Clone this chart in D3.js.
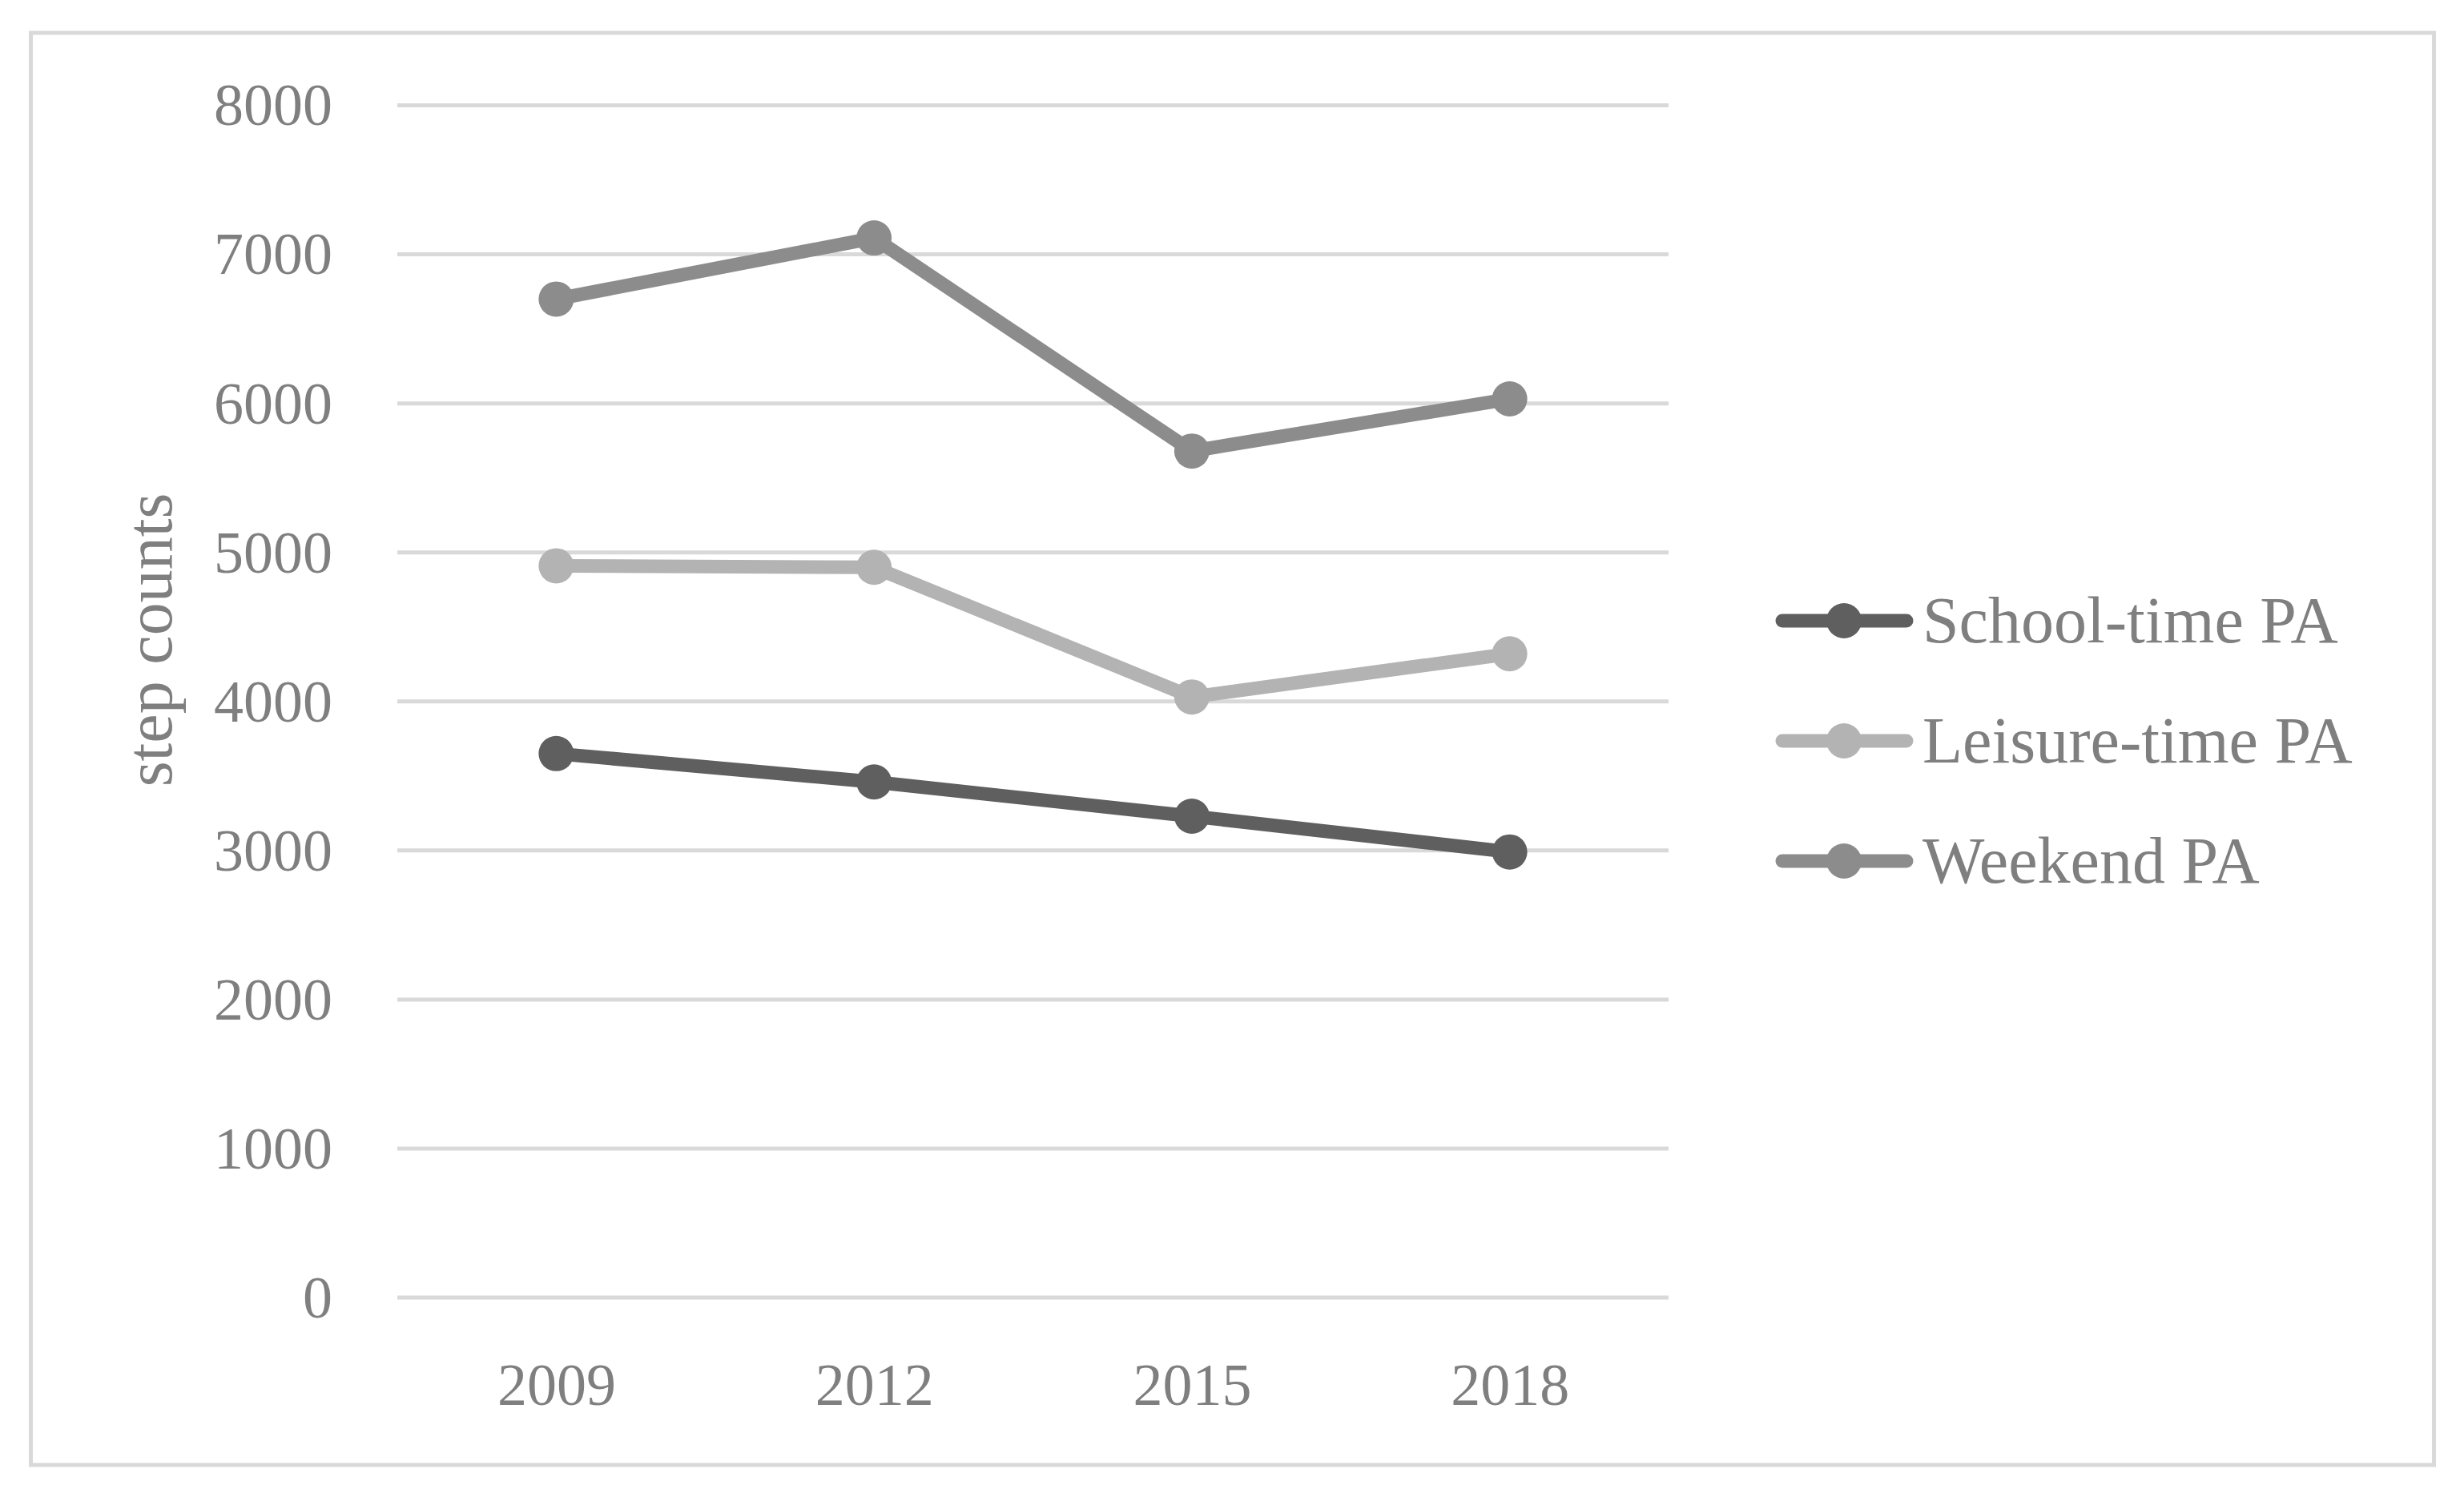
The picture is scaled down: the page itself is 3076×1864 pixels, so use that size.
<!DOCTYPE html>
<html>
<head>
<meta charset="utf-8">
<script src="https://cdn.jsdelivr.net/npm/d3@7"></script>
<style>
  html, body { margin: 0; padding: 0; background: #ffffff; }
  svg { display: block; }
  text { font-family: "Liberation Serif", "Times New Roman", serif; fill: #7f7f7f; }
</style>
</head>
<body>
<svg id="chart" width="3076" height="1864"></svg>
<script>
const years = ["2009", "2012", "2015", "2018"];
const seriesNames = ["School-time PA", "Leisure-time PA", "Weekend PA"];
const schoolTime = [3650, 3460, 3230, 2990];
const leisureTime = [4910, 4900, 4030, 4320];
const weekend = [6700, 7110, 5680, 6030];
const yTicks = [0, 1000, 2000, 3000, 4000, 5000, 6000, 7000, 8000];
const seriesColors = ["#5f5f5f", "#b3b3b3", "#8c8c8c"];
const yTitle = "step counts";

const seriesValues = [schoolTime, leisureTime, weekend];
const series = seriesNames.map((name, i) => ({ name, color: seriesColors[i], values: seriesValues[i] }));

const svg = d3.select("#chart");

// outer border
svg.append("rect")
  .attr("x", 38.5).attr("y", 41)
  .attr("width", 3000).attr("height", 1788)
  .attr("fill", "none").attr("stroke", "#d9d9d9").attr("stroke-width", 5);

const plot = { left: 496, right: 2083, top: 131.5, bottom: 1620 };

const x = d3.scalePoint().domain(years).range([plot.left, plot.right]).padding(0.5);
const y = d3.scaleLinear().domain([0, 8000]).range([plot.bottom, plot.top]);

// gridlines
svg.append("g").selectAll("line").data(yTicks).join("line")
  .attr("x1", plot.left).attr("x2", plot.right)
  .attr("y1", d => y(d)).attr("y2", d => y(d))
  .attr("stroke", "#d9d9d9").attr("stroke-width", 5);

// y axis labels
const yAxis = d3.axisLeft(y).tickValues(yTicks).tickSize(0).tickPadding(0).tickFormat(d3.format("d"));
const yg = svg.append("g").attr("transform", `translate(${plot.left - 81},0)`).call(yAxis);
yg.select(".domain").remove();
yg.selectAll("text").attr("font-size", 74).attr("fill", "#7f7f7f")
  .attr("font-family", '"Liberation Serif", serif').attr("dy", "0.33em");

// x axis labels
const xAxis = d3.axisBottom(x).tickSize(0).tickPadding(0);
const xg = svg.append("g").attr("transform", `translate(0,1754)`).call(xAxis);
xg.select(".domain").remove();
xg.selectAll("text").attr("font-size", 74).attr("fill", "#7f7f7f")
  .attr("font-family", '"Liberation Serif", serif').attr("dy", 0);

// y title
svg.append("text")
  .attr("transform", "translate(214,799) rotate(-90)")
  .attr("text-anchor", "middle")
  .attr("font-size", 82)
  .text(yTitle);

// lines
const line = d3.line().x((d, i) => x(years[i])).y(d => y(d));
const sg = svg.append("g").selectAll("g").data(series).join("g");
sg.append("path")
  .attr("d", d => line(d.values))
  .attr("fill", "none").attr("stroke", d => d.color)
  .attr("stroke-width", 17).attr("stroke-linejoin", "round");
sg.each(function(s) {
  d3.select(this).selectAll("circle").data(s.values).join("circle")
    .attr("cx", (d, i) => x(years[i])).attr("cy", d => y(d))
    .attr("r", 22).attr("fill", s.color);
});

// legend
const leg = svg.append("g").selectAll("g").data(series).join("g")
  .attr("transform", (d, i) => `translate(0,${775 + i * 150})`);
leg.append("line")
  .attr("x1", 2225).attr("x2", 2380).attr("y1", 0).attr("y2", 0)
  .attr("stroke", d => d.color).attr("stroke-width", 17).attr("stroke-linecap", "round");
leg.append("circle").attr("cx", 2302).attr("cy", 0).attr("r", 22).attr("fill", d => d.color);
leg.append("text")
  .attr("x", 2400).attr("y", 0).attr("dy", "0.33em")
  .attr("font-size", 82)
  .text(d => d.name);
</script>
</body>
</html>
